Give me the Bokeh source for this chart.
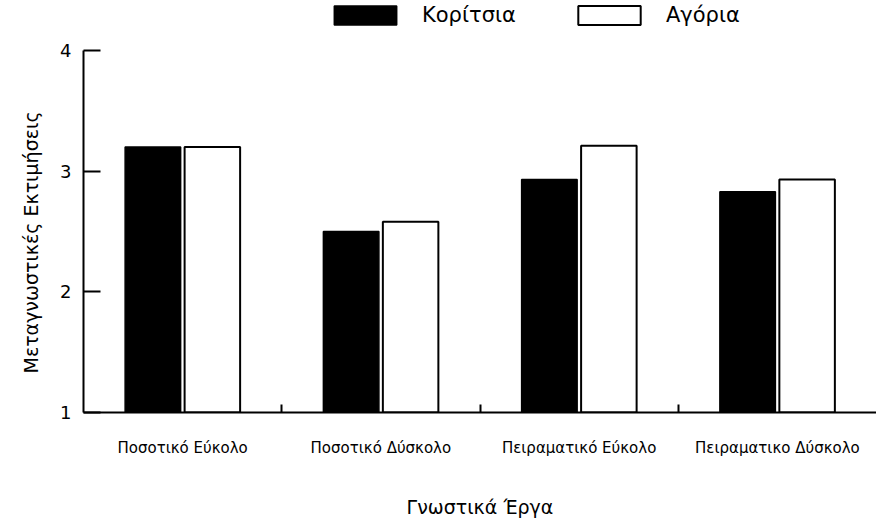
from bokeh.plotting import figure
from bokeh.models import FixedTicker, Legend, LegendItem, ColumnDataSource, Range1d, Title
from bokeh.embed import file_html
from bokeh.resources import INLINE
import numpy as np

categories = ["Ποσοτικό Εύκολο", "Ποσοτικό Δύσκολο", "Πειραματικό Εύκολο", "Πειραματικο Δύσκολο"]
girls = [3.20, 2.50, 2.93, 2.83]
boys = [3.20, 2.58, 3.21, 2.93]
y_ticks = [1, 2, 3, 4]
series_names = ["Κορίτσια", "Αγόρια"]
x_title = "Γνωστικά Έργα"
y_title = "Μεταγνωστικές Εκτιμήσεις"

FONT = "DejaVu Sans"

# frame extends above the value 4 to hold the legend; the axis itself stops at 4
p = figure(width=876, height=520, x_range=Range1d(0, 4), y_range=Range1d(1, 4.414),
           output_backend="svg", toolbar_location=None, title=None,
           min_border_left=83, min_border_right=0, min_border_top=0, min_border_bottom=108)
p.outline_line_color = None
p.grid.visible = False
p.background_fill_color = "white"

centers = np.arange(len(categories)) + 0.5
src = ColumnDataSource(dict(xg=centers - 0.15, xb=centers + 0.15, girls=girls, boys=boys))
rg = p.vbar(x="xg", top="girls", bottom=1, width=0.28, source=src,
            fill_color="black", line_color="black", line_width=1.5)
rb = p.vbar(x="xb", top="boys", bottom=1, width=0.28, source=src,
            fill_color="white", line_color="black", line_width=2)

xa = p.xaxis[0]
xa.ticker = FixedTicker(ticks=[float(c) for c in centers], minor_ticks=[1, 2, 3])
xa.major_label_overrides = {float(c): cat for c, cat in zip(centers, categories)}
xa.major_tick_in = 0
xa.major_tick_out = 0
xa.minor_tick_in = 8
xa.minor_tick_out = 0
xa.minor_tick_line_width = 2
xa.axis_line_width = 2
xa.major_label_text_font = FONT
xa.major_label_text_font_size = "15px"
xa.major_label_text_color = "black"
xa.major_label_standoff = 26
xa.axis_label = x_title
xa.axis_label_text_font = FONT
xa.axis_label_text_font_style = "normal"
xa.axis_label_text_font_size = "19px"
xa.axis_label_text_color = "black"
xa.axis_label_standoff = 36

ya = p.yaxis[0]
ya.ticker = FixedTicker(ticks=y_ticks, minor_ticks=[])
ya.bounds = (y_ticks[0], y_ticks[-1])
ya.major_tick_in = 17
ya.major_tick_out = 0
ya.major_tick_line_width = 2
ya.axis_line_width = 2
ya.major_label_text_font = FONT
ya.major_label_text_font_size = "18px"
ya.major_label_text_color = "black"
ya.major_label_standoff = 12

# y-axis title as a side Title, so it can be centred on the 1..4 span
ytitle = Title(text=y_title, align="left", offset=39, vertical_align="top",
               text_font=FONT, text_font_size="19px", text_font_style="normal",
               text_color="black", standoff=28)
p.add_layout(ytitle, "left")

legend = Legend(items=[LegendItem(label=series_names[0], renderers=[rg]),
                       LegendItem(label=series_names[1], renderers=[rb])],
                orientation="horizontal", location=(243, 385))
legend.glyph_width = 78
legend.glyph_height = 24
legend.label_standoff = 18
legend.spacing = 54
legend.padding = 0
legend.margin = 0
legend.border_line_color = None
legend.background_fill_alpha = 0
legend.label_text_font = FONT
legend.label_text_font_size = "21px"
legend.label_text_color = "black"
p.add_layout(legend, "center")

open("out.html", "w").write(file_html(p, INLINE))
